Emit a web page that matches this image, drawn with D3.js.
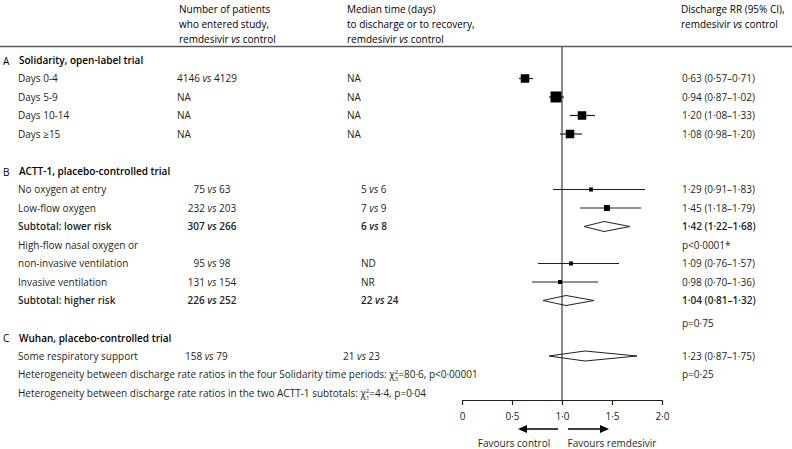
<!DOCTYPE html>
<html><head><meta charset="utf-8">
<script src="https://cdn.jsdelivr.net/npm/d3@7"></script>
<style>
body{margin:0;background:#fff}
svg{display:block}
text{font-family:"Open Sans",Lato,sans-serif;font-size:10px;fill:#231f20}
</style>
</head><body>
<svg id="chart" width="792" height="449"></svg>
<script>
// ---------- DATA ----------
const headerNumber = ["Number of patients", "who entered study,", "remdesivir vs control"];
const headerMedian = ["Median time (days)", "to discharge or to recovery,", "remdesivir vs control"];
const headerRR = ["Discharge RR (95% CI),", "remdesivir vs control"];

const sectionLetters = ["A", "B", "C"];
const sectionTitles = ["Solidarity, open-label trial", "ACTT-1, placebo-controlled trial", "Wuhan, placebo-controlled trial"];
const sectionRows = [0, 6, 15];

const rowIndex = [1, 2, 3, 4, 7, 8, 9, 10, 11, 12, 13, 16];
const rowLabels = ["Days 0-4", "Days 5-9", "Days 10-14", "Days \u226515",
  "No oxygen at entry", "Low-flow oxygen", "Subtotal: lower risk",
  "High-flow nasal oxygen or", "non-invasive ventilation", "Invasive ventilation",
  "Subtotal: higher risk", "Some respiratory support"];
const rowPatients = ["4146 vs 4129", "NA", "NA", "NA",
  "75 vs 63", "232 vs 203", "307 vs 266", "", "95 vs 98", "131 vs 154", "226 vs 252", "158 vs 79"];
const rowMedians = ["NA", "NA", "NA", "NA",
  "5 vs 6", "7 vs 9", "6 vs 8", "", "ND", "NR", "22 vs 24", "21 vs 23"];
const rowSection = [0, 0, 0, 0, 1, 1, 1, 1, 1, 1, 1, 2];
const rowBold = [false, false, false, false, false, false, true, false, false, false, true, false];

const rrRows = [1, 2, 3, 4, 7, 8, 9, 10, 11, 12, 13, 14.25, 16, 17];
const rrText = ["0\u00b763 (0\u00b757\u20130\u00b771)", "0\u00b794 (0\u00b787\u20131\u00b702)",
  "1\u00b720 (1\u00b708\u20131\u00b733)", "1\u00b708 (0\u00b798\u20131\u00b720)",
  "1\u00b729 (0\u00b791\u20131\u00b783)", "1\u00b745 (1\u00b718\u20131\u00b779)",
  "1\u00b742 (1\u00b722\u20131\u00b768)", "p<0\u00b70001*",
  "1\u00b709 (0\u00b776\u20131\u00b757)", "0\u00b798 (0\u00b770\u20131\u00b736)",
  "1\u00b704 (0\u00b781\u20131\u00b732)", "p=0\u00b775",
  "1\u00b723 (0\u00b787\u20131\u00b775)", "p=0\u00b725"];
const rrBold = [false, false, false, false, false, false, true, false, false, false, true, false, false, false];

const estRows = [1, 2, 3, 4, 7, 8, 9, 11, 12, 13, 16];
const estimate = [0.63, 0.94, 1.20, 1.08, 1.29, 1.45, 1.42, 1.09, 0.98, 1.04, 1.23];
const ciLow =    [0.57, 0.87, 1.08, 0.98, 0.91, 1.18, 1.22, 0.76, 0.70, 0.81, 0.87];
const ciHigh =   [0.71, 1.02, 1.33, 1.20, 1.83, 1.79, 1.68, 1.57, 1.36, 1.32, 1.75];
const markerType = ["square", "square", "square", "square", "square", "square", "diamond", "square", "square", "diamond", "diamond"];
const weight =   [8.5, 11, 8.5, 8.5, 4, 6, 0, 4, 4, 0, 0];

const heteroRows = [17, 18];
const heteroText = [
  ["Heterogeneity between discharge rate ratios in the four Solidarity time periods: \u03c7", "2", "3", "=80\u00b76, p<0\u00b700001"],
  ["Heterogeneity between discharge rate ratios in the two ACTT-1 subtotals: \u03c7", "2", "1", "=4\u00b74, p=0\u00b704"]
];

const axisTicks = [0, 0.5, 1, 1.5, 2];
const favours = ["Favours control", "Favours remdesivir"];

// ---------- LAYOUT ----------
const svg = d3.select("#chart");
const x = d3.scaleLinear().domain([0, 2]).range([462, 662]);
const y = d3.scaleLinear().domain([0, 15]).range([60, 337.5]);
const axisY = 400;
const ink = "#231f20";

function addVs(sel, str) {
  const parts = str.split(" vs ");
  sel.append("tspan").text(parts[0]);
  if (parts.length > 1) {
    sel.append("tspan").attr("font-style", "italic").text(" vs ");
    sel.append("tspan").text(parts[1]);
  }
}

const hy = [13, 28, 43];
const hs = 10.4;
headerNumber.forEach((t, i) => { const s = svg.append("text").attr("x", 179).attr("y", hy[i]).attr("font-size", hs).style("fill", "#000"); addVs(s, t); });
headerMedian.forEach((t, i) => { const s = svg.append("text").attr("x", 347).attr("y", hy[i]).attr("font-size", hs).style("fill", "#000"); addVs(s, t); });
headerRR.forEach((t, i) => { const s = svg.append("text").attr("x", 681).attr("y", hy[i]).attr("font-size", hs).style("fill", "#000"); addVs(s, t); });

svg.append("line").attr("x1", 0).attr("x2", 792).attr("y1", 46.5).attr("y2", 46.5)
  .attr("stroke", "#58595b").attr("stroke-width", 1.6);

svg.append("line").attr("x1", x(1)).attr("x2", x(1)).attr("y1", 47).attr("y2", axisY)
  .attr("stroke", "#58595b").attr("stroke-width", 1.4);

sectionRows.forEach((r, i) => {
  svg.append("text").attr("x", 3).attr("y", y(r) + 4.5).attr("font-size", 13).style("fill", "#000").text(sectionLetters[i]);
  svg.append("text").attr("x", 19).attr("y", y(r) + 4).attr("font-weight", 600).style("fill", "#000").text(sectionTitles[i]);
});

rowIndex.forEach((r, i) => {
  const yy = y(r) + 3.5;
  const fw = rowBold[i] ? 600 : "normal";
  svg.append("text").attr("x", 18).attr("y", yy).attr("font-weight", fw).text(rowLabels[i]);
  if (rowPatients[i]) {
    const sec = rowSection[i];
    const s = svg.append("text").attr("y", yy).attr("font-weight", fw)
      .attr("x", sec === 0 ? 177 : (sec === 1 ? 212 : 185))
      .attr("text-anchor", sec === 1 ? "middle" : "start");
    addVs(s, rowPatients[i]);
  }
  if (rowMedians[i]) {
    const sec = rowSection[i];
    const s = svg.append("text").attr("y", yy).attr("font-weight", fw)
      .attr("x", sec === 0 ? 347 : (sec === 1 ? 361 : 343));
    addVs(s, rowMedians[i]);
  }
});

heteroRows.forEach((r, i) => {
  const t = svg.append("text").attr("x", 18).attr("y", y(r) + 3.5);
  const p = heteroText[i];
  t.append("tspan").text(p[0]);
  t.append("tspan").attr("font-size", 6).attr("dy", -4).text(p[1]);
  t.append("tspan").attr("font-size", 6).attr("dx", -3.4).attr("dy", 7).text(p[2]);
  t.append("tspan").attr("dy", -3).text(p[3]);
});

rrRows.forEach((r, i) => {
  svg.append("text").attr("x", 682).attr("y", y(r) + 3.5)
    .attr("font-weight", rrBold[i] ? 600 : "normal").text(rrText[i]);
});

const g = svg.append("g");
estRows.forEach((r, i) => {
  const yy = y(r);
  if (markerType[i] === "square") {
    g.append("line").attr("x1", x(ciLow[i])).attr("x2", x(ciHigh[i])).attr("y1", yy).attr("y2", yy)
      .attr("stroke", ink).attr("stroke-width", 1.2);
    const w = weight[i];
    g.append("rect").attr("x", x(estimate[i]) - w / 2).attr("y", yy - w / 2)
      .attr("width", w).attr("height", w).attr("fill", "#000");
  } else {
    const pts = [[x(ciLow[i]), yy], [x(estimate[i]), yy - 5], [x(ciHigh[i]), yy], [x(estimate[i]), yy + 5]];
    g.append("path").attr("d", "M" + pts.join("L") + "Z")
      .attr("fill", "none").attr("stroke", ink).attr("stroke-width", 1);
  }
});

const axis = d3.axisBottom(x).tickValues(axisTicks).tickSize(5).tickSizeOuter(0).tickPadding(8)
  .tickFormat(d => d === 0 ? "0" : d3.format(".1f")(d).replace(".", "\u00b7"));
const ag = svg.append("g").attr("transform", `translate(0,${axisY})`).call(axis);
ag.select(".domain").attr("stroke", ink).attr("stroke-width", 1.2);
ag.selectAll(".tick line").attr("stroke", ink).attr("stroke-width", 1.2);
ag.selectAll(".tick text").attr("font-family", "'Open Sans', Lato, sans-serif").attr("font-size", 10).style("fill", ink);

const arrowY = 429;
function arrow(x1, x2) {
  const dir = Math.sign(x2 - x1);
  svg.append("line").attr("x1", x1).attr("x2", x2 - dir * 7).attr("y1", arrowY).attr("y2", arrowY)
    .attr("stroke", "#000").attr("stroke-width", 1.4);
  svg.append("path").attr("d", `M${x2},${arrowY}L${x2 - dir * 9},${arrowY - 4}L${x2 - dir * 9},${arrowY + 4}Z`).attr("fill", "#000");
}
arrow(x(0.96), x(0.56));
arrow(x(1.06), x(1.47));
svg.append("text").attr("x", x(0.52)).attr("y", 447).attr("text-anchor", "middle").text(favours[0]);
svg.append("text").attr("x", x(1.5)).attr("y", 447).attr("text-anchor", "middle").text(favours[1]);
</script>
</body></html>
